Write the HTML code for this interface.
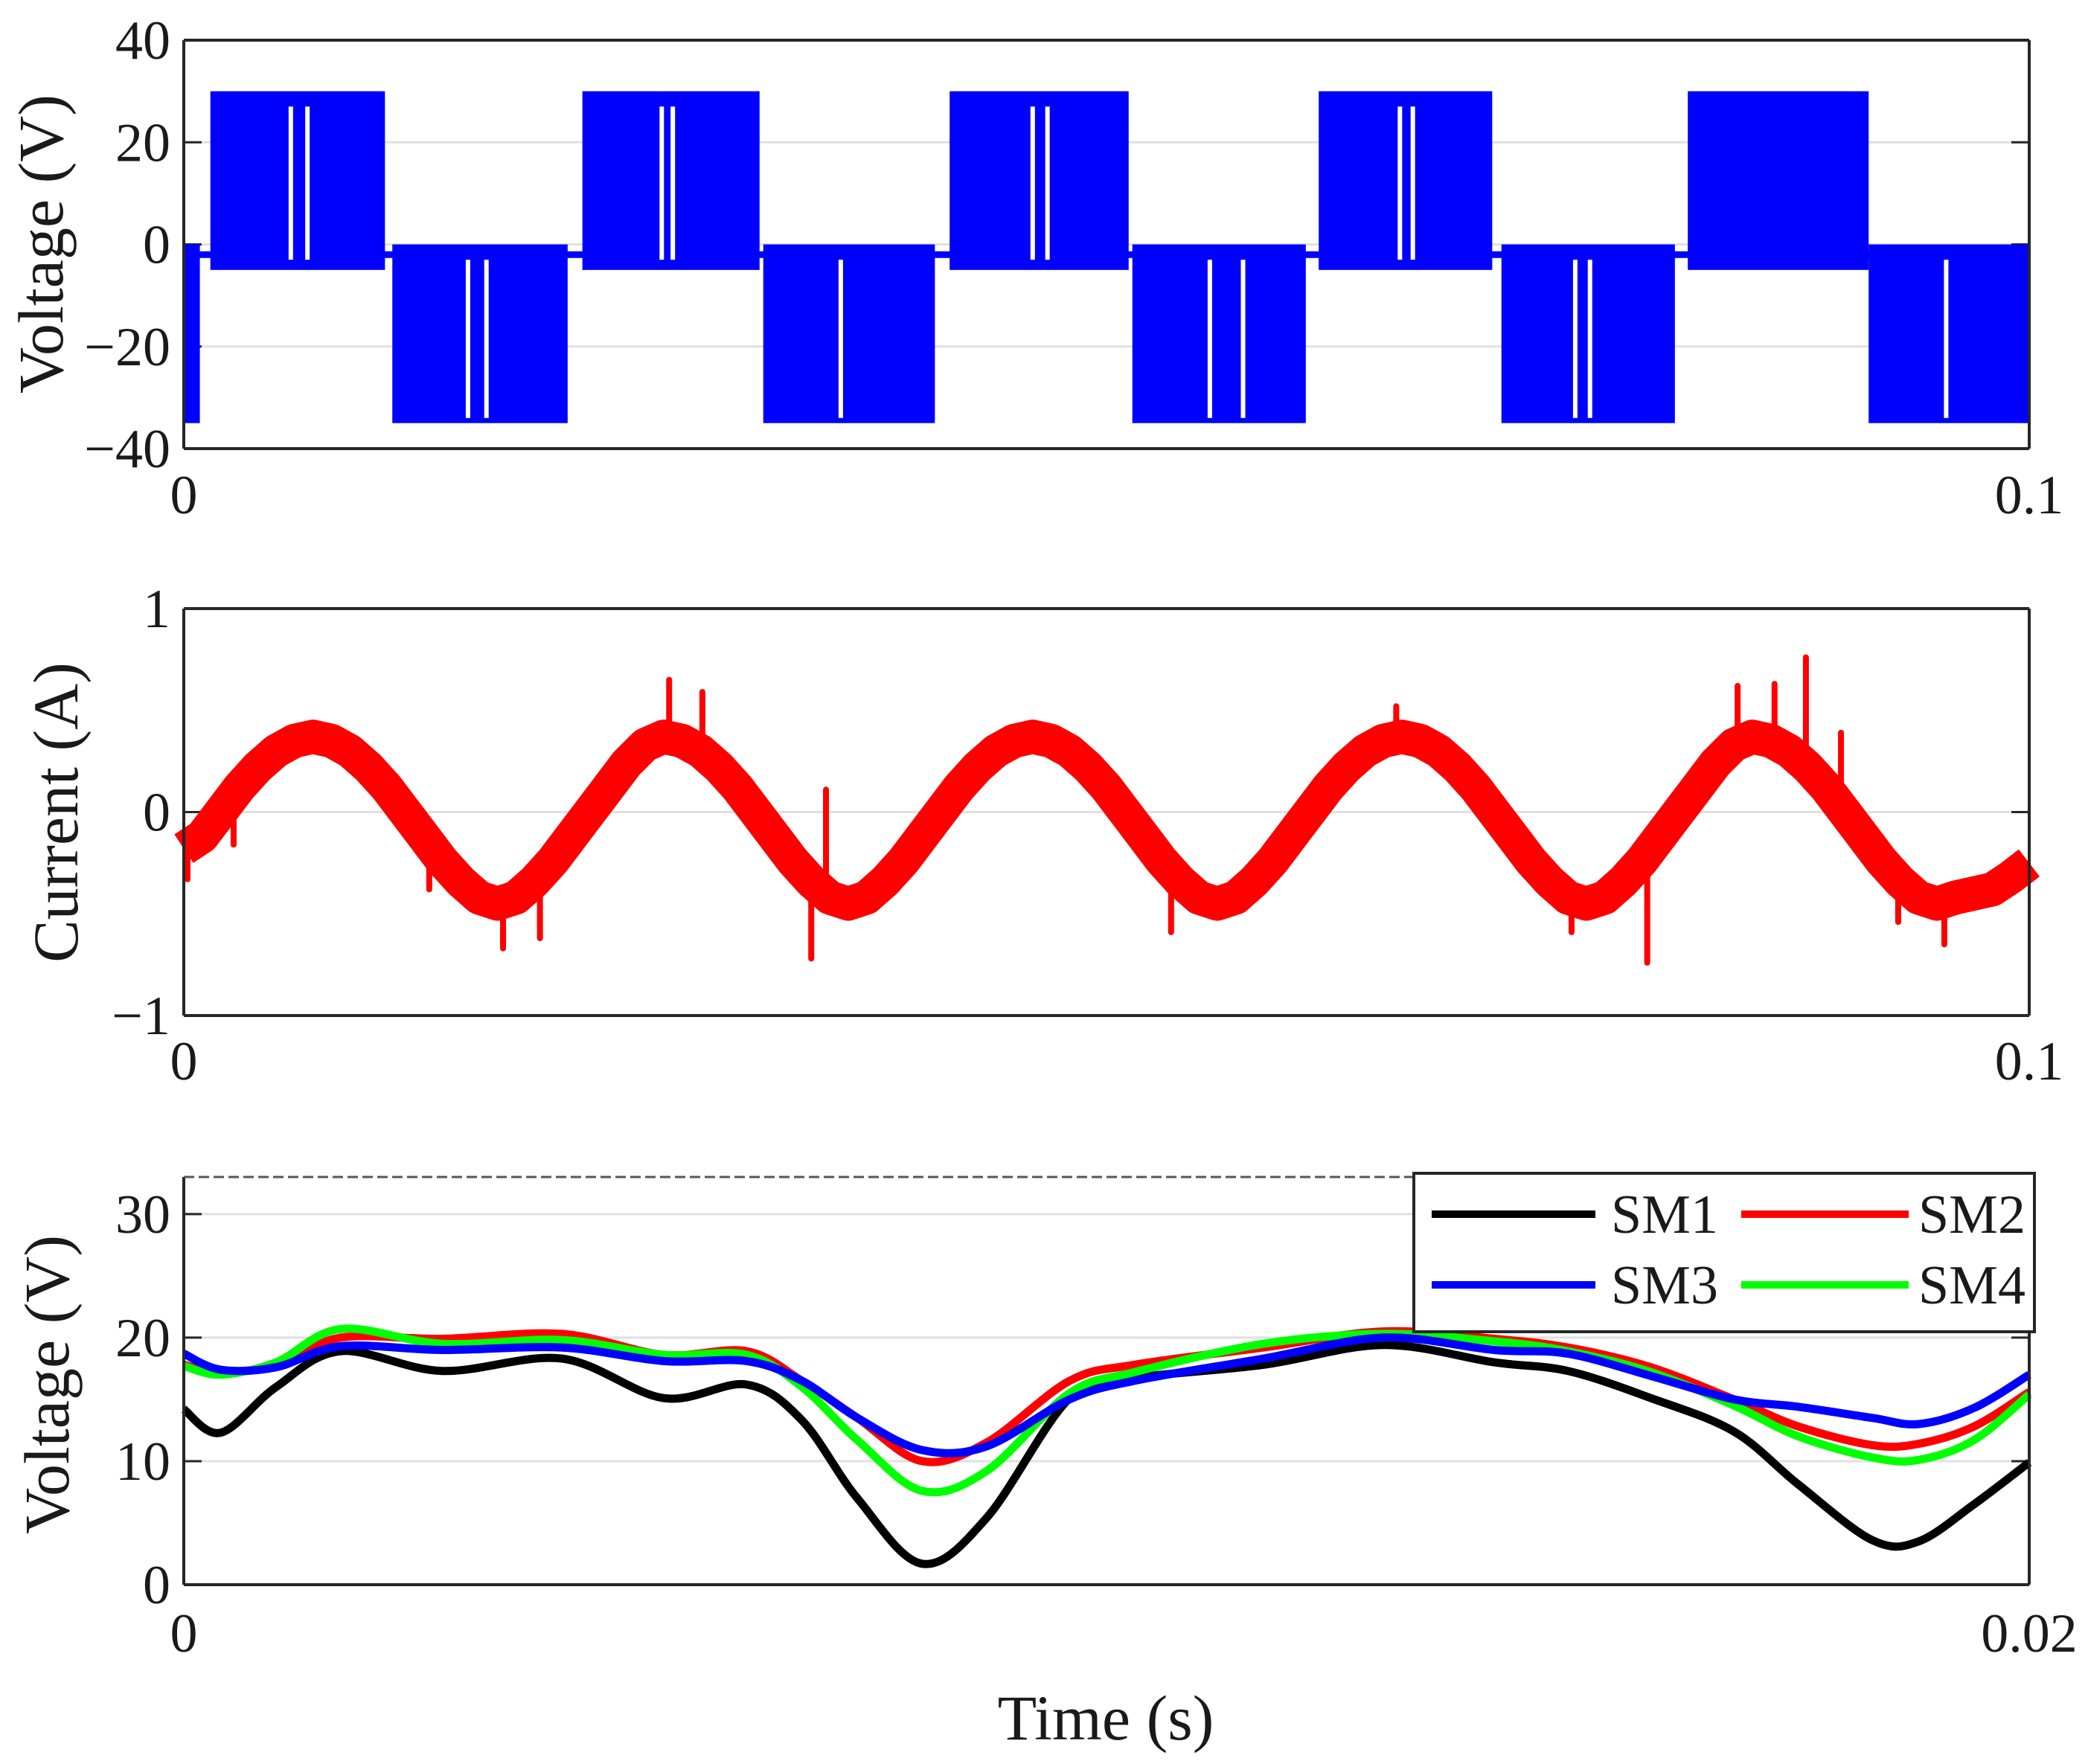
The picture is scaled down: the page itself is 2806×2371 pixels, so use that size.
<!DOCTYPE html>
<html><head><meta charset="utf-8"><style>
html,body{margin:0;padding:0;background:#fff}
svg{display:block}
text{font-family:"Liberation Serif",serif;fill:#1a1a1a}
</style></head><body>
<svg id="fig" width="2806" height="2371" viewBox="0 0 2806 2371"></svg>
<script>
// ---------- Plot 1 data (ms, V) ----------
const posBlockStart=[1.44,21.6,41.5,61.5,81.5];
const posBlockEnd=[10.9,31.2,51.2,70.9,91.3];
const posHigh=[30,30,30,30,30];
const posLow=[-5,-5,-5,-5,-5];
const negBlockStart=[0,11.3,31.4,51.4,71.4,91.3];
const negBlockEnd=[0.87,20.8,40.7,60.8,80.8,100];
const negHigh=[0,0,0,0,0,0];
const negLow=[-35,-35,-35,-35,-35,-35];
const zeroLevel=-2;
const posGapTimes=[5.8,6.7,25.9,26.5,46.0,46.8,65.9,66.6];
const negGapTimes=[15.4,16.4,35.6,55.6,57.4,75.4,76.2,95.5];
const v1YTicks=[-40,-20,0,20,40];
// ---------- Plot 2 data (ms, A) ----------
const currentT=[];for(let i=0;i<=100;i++)currentT.push(i);
const currentV=[-0.18,-0.12,0.0,0.12,0.22,0.30,0.35,0.37,0.35,0.30,0.22,0.12,0.0,-0.12,-0.24,-0.34,-0.42,-0.45,-0.42,-0.34,-0.24,-0.12,0.0,0.12,0.24,0.33,0.37,
0.35,0.30,0.22,0.12,0.0,-0.12,-0.24,-0.34,-0.42,-0.45,-0.42,-0.34,-0.24,-0.12,0.0,0.12,0.22,0.30,0.35,0.37,
0.35,0.30,0.22,0.12,0.0,-0.12,-0.24,-0.34,-0.42,-0.45,-0.42,-0.34,-0.24,-0.12,0.0,0.12,0.22,0.30,0.35,0.37,
0.35,0.30,0.22,0.12,0.0,-0.12,-0.24,-0.34,-0.42,-0.45,-0.42,-0.34,-0.24,-0.12,0.0,0.12,0.24,0.33,0.37,
0.35,0.30,0.22,0.12,0.0,-0.12,-0.24,-0.34,-0.42,-0.45,-0.42,-0.40,-0.38,-0.32,-0.25];
const spikeT=[0.2,2.7,13.3,17.3,19.3,26.3,28.1,30.2,34.0,34.8,46.8,53.5,65.7,75.2,79.3,84.2,86.2,87.9,89.8,92.9,95.4];
const spikeV=[-0.33,-0.16,-0.38,-0.67,-0.62,0.65,0.59,0.10,-0.72,0.11,0.40,-0.59,0.52,-0.59,-0.74,0.62,0.63,0.76,0.39,-0.54,-0.65];
const i2YTicks=[-1,0,1];
// ---------- Plot 3 data (ms, V) ----------
const smT=[0,0.4,1,1.7,2.8,4.1,5.2,6.1,6.7,7.3,8.0,8.7,9.6,10.3,11.7,13.0,14.2,15.0,15.9,16.8,17.5,18.3,18.8,19.4,20];
const sm1=[14.2,12.3,16.0,18.9,17.3,18.3,15.1,16.2,13.3,7.0,1.7,5.4,15.1,16.7,17.8,19.4,18.0,17.3,15.1,12.4,8.1,3.6,3.5,6.5,9.9];
const sm2=[17.8,17.2,17.8,20.0,19.9,20.3,18.6,18.9,16.5,13.5,10.0,11.5,16.5,17.8,19.2,20.5,19.9,19.2,17.6,15.0,12.8,11.3,11.4,12.8,15.6];
const sm3=[18.7,17.4,17.6,19.3,19.0,19.2,18.1,18.1,16.5,13.5,10.9,11.2,15.0,16.5,18.3,20.0,19.0,18.7,16.9,15.0,14.4,13.5,13.0,14.3,17.0];
const sm4=[17.7,17.0,18.0,20.7,19.5,19.8,18.6,18.6,16.0,11.7,7.6,9.2,15.5,17.2,19.5,20.3,19.7,18.9,17.2,14.5,12.0,10.3,10.1,11.7,15.4];
const v3YTicks=[0,10,20,30];
const legendLabels=['SM1','SM2','SM3','SM4'];

const NS='http://www.w3.org/2000/svg';
const svg=document.getElementById('fig');
function mk(tag,attrs,parent){const e=document.createElementNS(NS,tag);for(const k in attrs)e.setAttribute(k,attrs[k]);(parent||svg).appendChild(e);return e;}
const X0=247,X1=2727;
const TF=74, AF=86;
function lin(d0,d1,r0,r1){return v=>r0+(v-d0)/(d1-d0)*(r1-r0);}

function axesFrame(name,top,bot,yscale,ticks,fmt){
  const g=mk('g',{});
  ticks.forEach(t=>{const y=yscale(t);
    const gl=mk('line',{x1:X0,x2:X1,y1:y,y2:y,stroke:'#e0e0e0','stroke-width':3},g);
    
    mk('line',{x1:X0,x2:X0+24,y1:y,y2:y,stroke:'#262626','stroke-width':3},g);
    mk('line',{x1:X1-24,x2:X1,y1:y,y2:y,stroke:'#262626','stroke-width':3},g);
    const tx=mk('text',{x:229,y:y+25,'font-size':TF,'text-anchor':'end'},g);tx.textContent=fmt(t);
    
  });
  return g;
}
function border(name,top,bot,dashedTop){
  const g=mk('g',{});
  mk('line',{x1:X0,x2:X0,y1:top,y2:bot,stroke:'#262626','stroke-width':4},g);
  mk('line',{x1:X1,x2:X1,y1:top,y2:bot,stroke:'#262626','stroke-width':4},g);
  mk('line',{x1:X0,x2:X1,y1:bot,y2:bot,stroke:'#262626','stroke-width':4},g);
  if(dashedTop) mk('line',{x1:X0,x2:X1,y1:top,y2:top,stroke:'#555','stroke-width':3,'stroke-dasharray':'14 6'},g);
  else mk('line',{x1:X0,x2:X1,y1:top,y2:top,stroke:'#262626','stroke-width':4},g);
}
function minus(t){return t<0?'\u2212'+Math.abs(t):''+t;}
function xlabels(y,right){
  const a=mk('text',{x:X0,y:y,'font-size':TF,'text-anchor':'middle'});a.textContent='0';
  
  const b=mk('text',{x:X1,y:y,'font-size':TF,'text-anchor':'middle'});b.textContent=right;
  
}
function ytitle(txt,x,y,name){
  const t=mk('text',{x:0,y:0,'font-size':AF,'text-anchor':'middle',transform:`translate(${x},${y}) rotate(-90)`});
  t.textContent=txt;
}

// ---------- Plot 1 ----------
const p1x=lin(0,100,X0,X1), p1y=lin(-40,40,603,54);
axesFrame('voltage-plot',54,603,p1y,v1YTicks,minus);
const g1=mk('g',{});
mk('line',{x1:p1x(0),x2:p1x(100),y1:p1y(zeroLevel),y2:p1y(zeroLevel),stroke:'#0000ff','stroke-width':9},g1);
posBlockStart.forEach((s,i)=>{const r=mk('rect',{x:p1x(s),y:p1y(posHigh[i]),width:p1x(posBlockEnd[i])-p1x(s),height:p1y(posLow[i])-p1y(posHigh[i]),fill:'#0000ff'},g1);
  });
negBlockStart.forEach((s,i)=>{const r=mk('rect',{x:p1x(s),y:p1y(negHigh[i]),width:p1x(negBlockEnd[i])-p1x(s),height:p1y(negLow[i])-p1y(negHigh[i]),fill:'#0000ff'},g1);
  });
posGapTimes.forEach(t=>{mk('rect',{x:p1x(t)-3,y:p1y(27),width:6,height:p1y(-3)-p1y(27),fill:'#fff'},g1);});
negGapTimes.forEach(t=>{mk('rect',{x:p1x(t)-3,y:p1y(-3),width:6,height:p1y(-34)-p1y(-3),fill:'#fff'},g1);});
border('voltage-plot',54,603,false);
xlabels(690,'0.1');
ytitle('Voltage (V)',84,328,'y-axis-title-voltage');

// ---------- Plot 2 ----------
const p2x=lin(0,100,X0,X1), p2y=lin(-1,1,1365,818);
axesFrame('current-plot',818,1365,p2y,i2YTicks,minus);
const g2=mk('g',{});
let d='';currentT.forEach((t,i)=>{d+=(i?'L':'M')+p2x(t).toFixed(1)+','+p2y(currentV[i]).toFixed(1);});
mk('path',{d:d,fill:'none',stroke:'#ff0000','stroke-width':46,'stroke-linejoin':'round'},g2);
spikeT.forEach((t,i)=>{const base=currentV[Math.round(t)];
  const s=mk('line',{x1:p2x(t),x2:p2x(t),y1:p2y(base),y2:p2y(spikeV[i]),stroke:'#ff0000','stroke-width':8,'stroke-linecap':'round'},g2);
  });
border('current-plot',818,1365,false);
xlabels(1451,'0.1');
ytitle('Current (A)',104,1092,'y-axis-title-current');

// ---------- Plot 3 ----------
const p3x=lin(0,20,X0,X1), p3y=lin(0,33,2130,1582);
axesFrame('capacitor-plot',1582,2130,p3y,v3YTicks,minus);
function smooth(xs,ys){const P=xs.map((x,i)=>[p3x(x),p3y(ys[i])]);let s='M'+P[0][0]+','+P[0][1];
  for(let i=0;i<P.length-1;i++){const p0=P[Math.max(0,i-1)],p1=P[i],p2=P[i+1],p3=P[Math.min(P.length-1,i+2)];
    const c1=[p1[0]+(p2[0]-p0[0])/6,p1[1]+(p2[1]-p0[1])/6],c2=[p2[0]-(p3[0]-p1[0])/6,p2[1]-(p3[1]-p1[1])/6];
    s+=`C${c1[0].toFixed(1)},${c1[1].toFixed(1)} ${c2[0].toFixed(1)},${c2[1].toFixed(1)} ${p2[0].toFixed(1)},${p2[1].toFixed(1)}`;}
  return s;}
const series=[[sm1,'#000000','sm1-line'],[sm2,'#ff0000','sm2-line'],[sm4,'#00ff00','sm4-line'],[sm3,'#0000ff','sm3-line']];
series.forEach(([v,c,n])=>{const p=mk('path',{d:smooth(smT,v),fill:'none',stroke:c,'stroke-width':11});
  });
border('capacitor-plot',1582,2130,true);
xlabels(2220,'0.02');
ytitle('Voltage (V)',92,1861,'y-axis-title-sm-voltage');
const xt=mk('text',{x:1486,y:2338,'font-size':AF,'text-anchor':'middle'});xt.textContent='Time (s)';


// legend
const lg=mk('g',{});
mk('rect',{x:1900,y:1577,width:834,height:213,fill:'#fff',stroke:'#262626','stroke-width':4},lg);
const legColors=['#000000','#ff0000','#0000ff','#00ff00'];
const legPos=[[1924,2144,2165,1632],[2340,2565,2578,1632],[1924,2144,2165,1727],[2340,2565,2578,1727]];
legendLabels.forEach((lab,i)=>{const [a,b,tx,y]=legPos[i];
  const e=mk('g',{},lg);
  mk('line',{x1:a,x2:b,y1:y,y2:y,stroke:legColors[i],'stroke-width':10},e);
  const t=mk('text',{x:tx,y:y+25,'font-size':TF},e);t.textContent=lab;});
</script>
</body></html>
